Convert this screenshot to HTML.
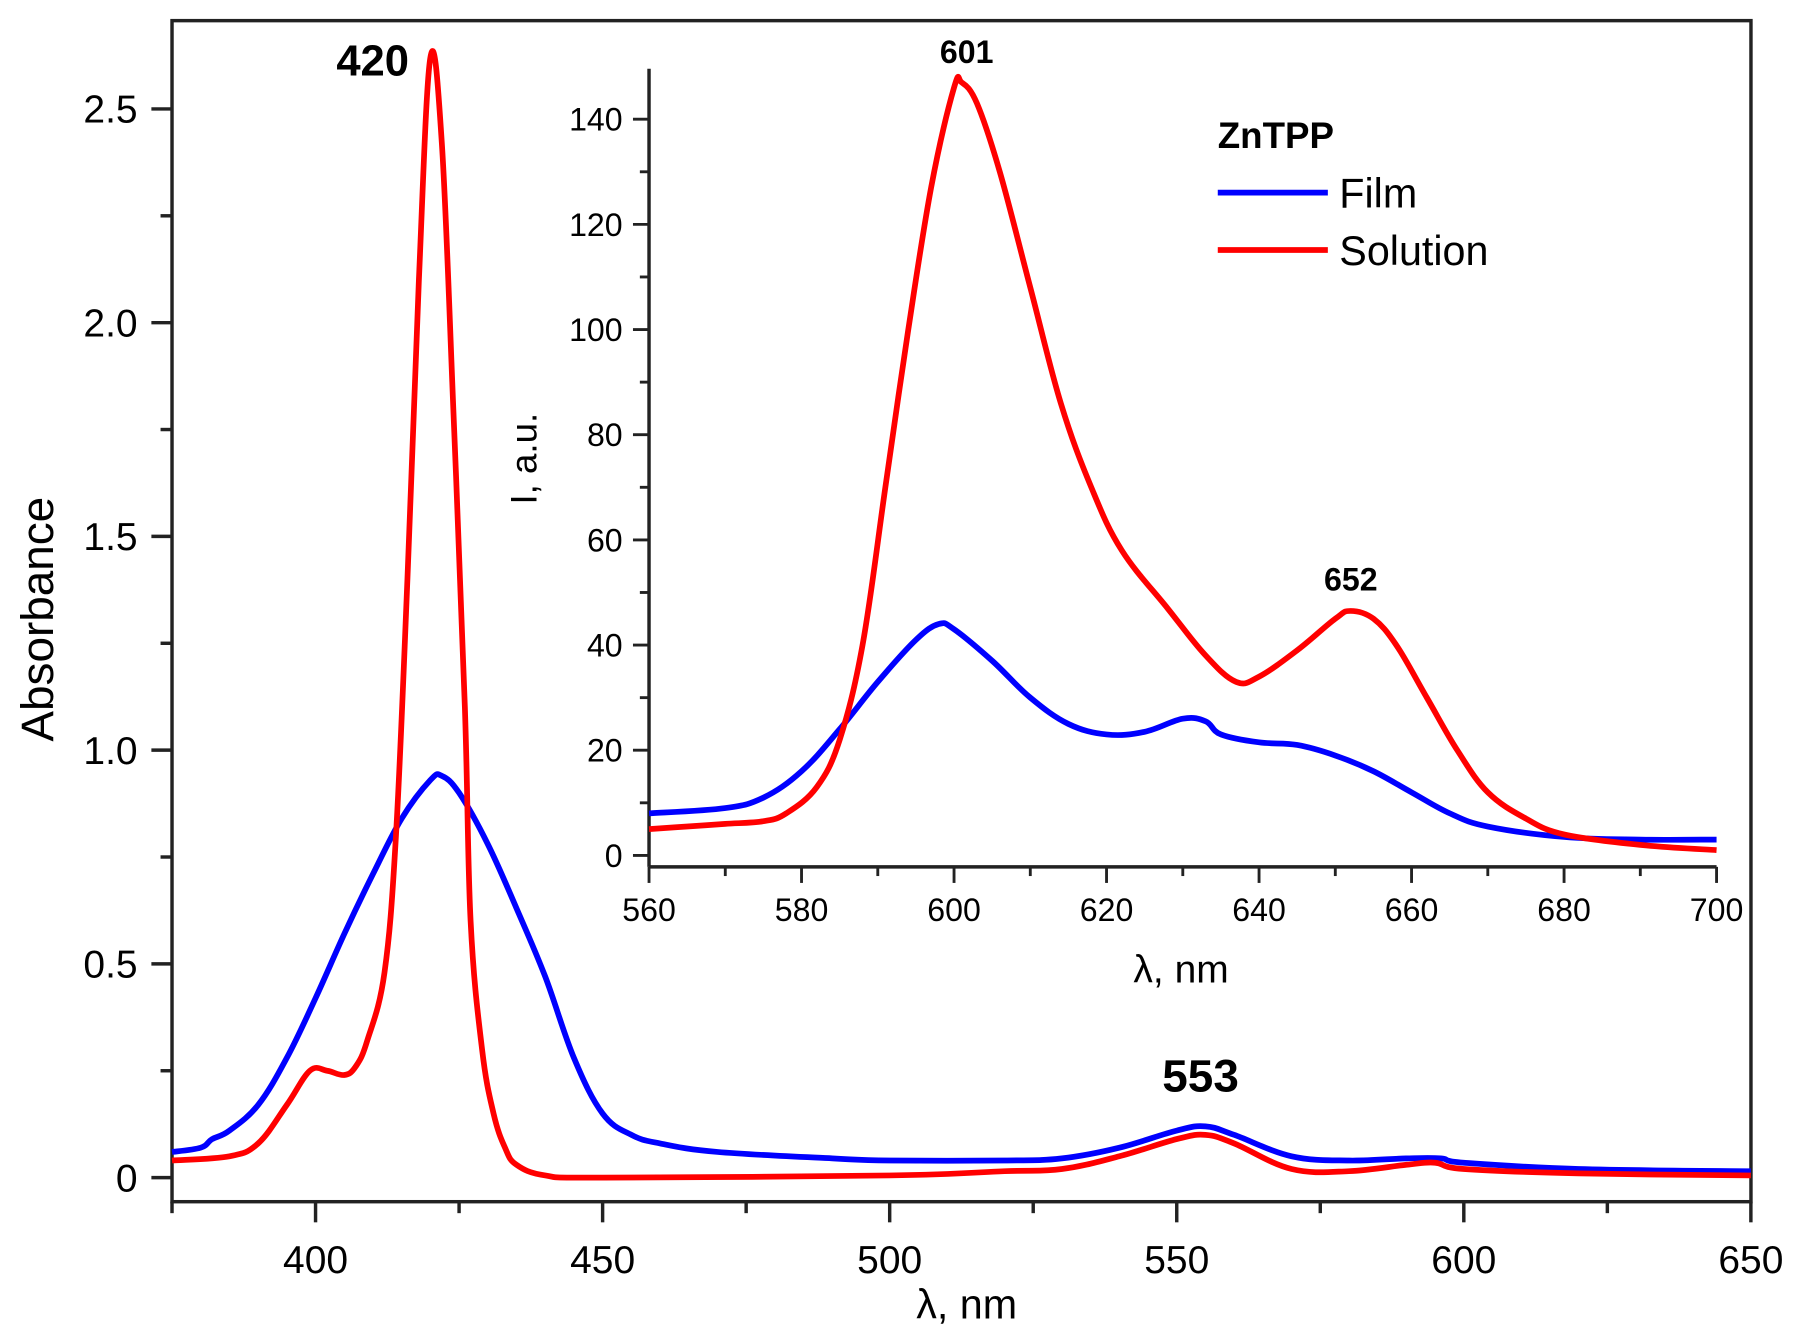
<!DOCTYPE html>
<html><head><meta charset="utf-8"><style>html,body{margin:0;padding:0;background:#fff}svg{display:block}</style></head>
<body>
<svg id="s" width="1798" height="1337" viewBox="0 0 1568 1166" xmlns="http://www.w3.org/2000/svg" font-family="Liberation Sans, Arial, sans-serif">
<rect width="1568" height="1166" fill="#fff"/>
<rect x="150" y="18" width="1377" height="1030" fill="none" stroke="#222" stroke-width="3"/>
<g id="g"></g>
<text x="325" y="66" font-size="38" font-weight="bold" text-anchor="middle">420</text>
<text x="1047" y="952" font-size="40" font-weight="bold" text-anchor="middle">553</text>
<text x="843" y="55" font-size="28" font-weight="bold" text-anchor="middle">601</text>
<text x="1178" y="515" font-size="28" font-weight="bold" text-anchor="middle">652</text>
<text x="843" y="1150" font-size="36" text-anchor="middle">λ, nm</text>
<text transform="translate(46,540) rotate(-90)" font-size="40" text-anchor="middle">Absorbance</text>
<text x="1030" y="857" font-size="34" text-anchor="middle">λ, nm</text>
<text transform="translate(468,400) rotate(-90)" font-size="32" text-anchor="middle">I, a.u.</text>
<text x="1062" y="129" font-size="32" font-weight="bold">ZnTPP</text>
<line x1="1062" y1="168" x2="1158" y2="168" stroke="#00f" stroke-width="5"/>
<line x1="1062" y1="218" x2="1158" y2="218" stroke="#f00" stroke-width="5"/>
<text x="1168" y="181" font-size="36">Film</text>
<text x="1168" y="231" font-size="36">Solution</text>
</svg>
<script>
var g=document.getElementById('g'),NS='http://www.w3.org/2000/svg';
function el(t,a,txt){var e=document.createElementNS(NS,t);for(var k in a)e.setAttribute(k,a[k]);if(txt!=null)e.textContent=txt;g.appendChild(e);return e;}
function mx(n){return 150+(n-375)*5.007}function my(v){return 1027-v*372.8}
function ix(n){return 566+(n-560)*6.65}function iy(v){return 746-v*4.586}
for(var n=375;n<=650;n+=25){var maj=(n%50==0);el('line',{x1:mx(n),y1:1048,x2:mx(n),y2:maj?1066:1058,stroke:'#222','stroke-width':3});if(maj)el('text',{x:mx(n),y:1110,'font-size':34,'text-anchor':'middle'},n);}
for(var v=0;v<=2.6;v+=0.25){var maj=Math.abs(v*2-Math.round(v*2))<1e-6;el('line',{x1:maj?132:140,y1:my(v),x2:150,y2:my(v),stroke:'#222','stroke-width':3});if(maj)el('text',{x:120,y:my(v)+12,'font-size':34,'text-anchor':'end'},v==0?'0':v.toFixed(1));}
el('line',{x1:566,y1:60,x2:566,y2:756,stroke:'#222','stroke-width':3});
el('line',{x1:566,y1:756,x2:1497,y2:756,stroke:'#222','stroke-width':3});
for(var n=560;n<=700;n+=10){var maj=n%20==0;el('line',{x1:ix(n),y1:756,x2:ix(n),y2:maj?770:764,stroke:'#222','stroke-width':2.5});if(maj)el('text',{x:ix(n),y:803,'font-size':28,'text-anchor':'middle'},n);}
for(var v=0;v<=145;v+=10){var maj=v%20==0;el('line',{x1:maj?552:558,y1:iy(v),x2:566,y2:iy(v),stroke:'#222','stroke-width':2.5});if(maj)el('text',{x:543,y:iy(v)+10,'font-size':28,'text-anchor':'end'},v);}
function path(d,fx,fy,c){var p=[];for(var i=0;i<d.length;i+=2)p.push([fx(d[i]),fy(d[i+1])]);
var s='M'+p[0][0].toFixed(1)+','+p[0][1].toFixed(1);
for(var i=0;i<p.length-1;i++){var a=p[Math.max(0,i-1)],b=p[i],c2=p[i+1],e=p[Math.min(p.length-1,i+2)];var t=0.18;
s+='C'+(b[0]+(c2[0]-a[0])*t).toFixed(1)+','+(b[1]+(c2[1]-a[1])*t).toFixed(1)+' '+(c2[0]-(e[0]-b[0])*t).toFixed(1)+','+(c2[1]-(e[1]-b[1])*t).toFixed(1)+' '+c2[0].toFixed(1)+','+c2[1].toFixed(1);}
el('path',{d:s,fill:'none',stroke:c,'stroke-width':5,'stroke-linejoin':'round'});}
path([375,0.06,380,0.07,382,0.09,385,0.11,390,0.17,395,0.28,400,0.42,405,0.57,410,0.71,415,0.84,420,0.93,422,0.94,425,0.90,430,0.78,435,0.63,440,0.47,445,0.28,450,0.15,455,0.1,460,0.08,470,0.06,490,0.045,500,0.04,520,0.04,530,0.045,540,0.07,550,0.11,555,0.12,560,0.1,570,0.05,580,0.04,590,0.045,596,0.045,600,0.035,620,0.02,650,0.015],mx,my,'#00f');
path([375,0.04,385,0.05,390,0.08,395,0.17,399,0.25,402,0.25,405,0.24,407,0.26,409,0.32,412,0.48,414,0.8,416,1.4,418,2.1,420,2.62,422,2.42,424,1.8,426,1.1,427,0.6,429,0.3,431,0.15,433,0.07,435,0.03,440,0.005,450,0,500,0.005,520,0.015,530,0.02,540,0.05,550,0.09,555,0.1,560,0.08,570,0.02,580,0.015,590,0.03,595,0.035,600,0.02,620,0.01,650,0.005],mx,my,'#f00');
path([560,8,570,9,575,11,580,16,585,24,590,33,595,41,598,44,600,43,605,37,610,30,615,25,620,23,625,23.5,630,26,633,25.5,635,23,640,21.5,645,21,650,19,655,16,660,12,665,8,670,5.5,680,3.5,690,3,700,3],ix,iy,'#00f');
path([560,5,565,5.5,570,6,575,6.5,578,8,582,13,585,22,588,40,591,70,594,100,597,127,600,146,601,147,603,143,606,130,610,108,614,86,618,70,622,58,628,47,633,38,637,33,640,34,645,39,650,45,652,46.5,655,45,658,40,662,30,666,20,670,12,675,7,680,4,690,2,700,1],ix,iy,'#f00');
</script>
</body></html>
